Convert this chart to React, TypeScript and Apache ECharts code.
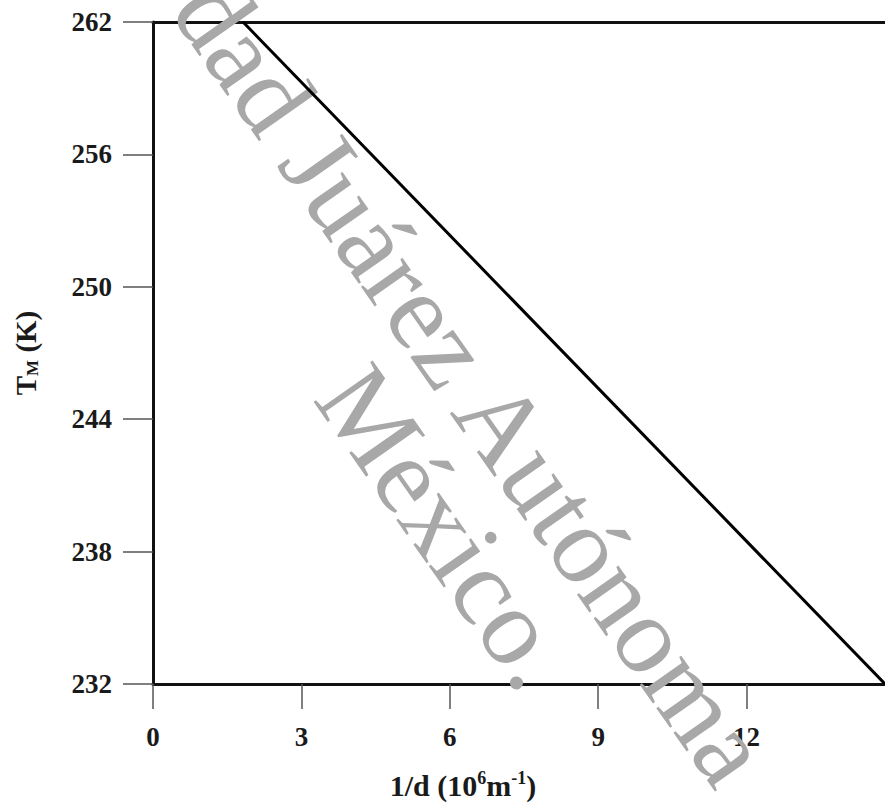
import React, { useEffect, useRef } from "react";
import * as echarts from "echarts";

// Data
const lineX: number[] = [1.82, 14.8];
const lineTM: number[] = [262, 232];
const xTicks: number[] = [0, 3, 6, 9, 12];
const yTicks: number[] = [232, 238, 244, 250, 256, 262];
const watermarkLine1 = "dad Juárez Autónoma";
const watermarkLine2 = "México.";

const SERIF = "'Liberation Serif', 'Times New Roman', serif";

export default function App() {
  const ref = useRef<HTMLDivElement>(null);

  useEffect(() => {
    if (!ref.current) return;
    const chart = echarts.init(ref.current, undefined, { renderer: "svg" });
    const data = lineX.map((x, i) => [x, lineTM[i]]);
    const ang = (55 * Math.PI) / 180;

    chart.setOption({
      animation: false,
      backgroundColor: "#ffffff",
      grid: { left: 153, top: 22, right: 0, bottom: 116, containLabel: false },
      xAxis: [
        {
          type: "value",
          min: xTicks[0],
          max: 14.8,
          interval: 3,
          position: "bottom",
          axisLine: { show: true, lineStyle: { color: "#111", width: 3 } },
          axisTick: { show: true, length: 25, lineStyle: { color: "#555", width: 1.5 } },
          splitLine: { show: false },
          axisLabel: {
            showMaxLabel: false,
            margin: 39,
            fontFamily: SERIF,
            fontWeight: "bold",
            fontSize: 27,
            color: "#1a1a1a",
            formatter: (v: number) => (xTicks.includes(v) ? String(v) : ""),
          },
          name: "{a|1/d (10}{s|6}{a|m}{s|-1}{a|)}",
          nameLocation: "middle",
          nameGap: 85,
          nameTextStyle: {
            padding: [0, 112, 0, 0],
            rich: {
              a: { fontFamily: SERIF, fontWeight: "bold", fontSize: 30, color: "#1a1a1a", lineHeight: 32 },
              s: { fontFamily: SERIF, fontWeight: "bold", fontSize: 18, color: "#1a1a1a", verticalAlign: "top", lineHeight: 19 },
            },
          },
        },
        {
          type: "value",
          min: xTicks[0],
          max: 14.8,
          position: "top",
          axisLine: { show: true, lineStyle: { color: "#111", width: 3 } },
          axisTick: { show: false },
          axisLabel: { show: false },
          splitLine: { show: false },
        },
      ],
      yAxis: {
        type: "value",
        min: yTicks[0],
        max: yTicks[yTicks.length - 1],
        interval: 6,
        axisLine: { show: true, lineStyle: { color: "#111", width: 3 } },
        axisTick: { show: true, length: 30, lineStyle: { color: "#555", width: 1.5 } },
        splitLine: { show: false },
        axisLabel: {
          margin: 41,
          fontFamily: SERIF,
          fontWeight: "bold",
          fontSize: 27,
          color: "#1a1a1a",
        },
        name: "{a|T}{s|M}{a| (K)}",
        nameLocation: "middle",
        nameGap: 112,
        nameTextStyle: {
          rich: {
            a: { fontFamily: SERIF, fontWeight: "bold", fontSize: 29, color: "#1a1a1a", lineHeight: 30 },
            s: { fontFamily: SERIF, fontWeight: "bold", fontSize: 17, color: "#1a1a1a", verticalAlign: "bottom", lineHeight: 17 },
          },
        },
      },
      graphic: [
        {
          type: "text",
          x: 199,
          y: -9,
          rotation: -ang,
          z: 1,
          silent: true,
          style: {
            text: watermarkLine1,
            fontFamily: SERIF,
            fontSize: 110,
            fill: "#a8a8a8",
            textAlign: "left",
            textVerticalAlign: "middle",
          },
        },
        {
          type: "text",
          x: 342,
          y: 378,
          rotation: -ang,
          z: 1,
          silent: true,
          style: {
            text: watermarkLine2,
            fontFamily: SERIF,
            fontSize: 110,
            fill: "#a8a8a8",
            textAlign: "left",
            textVerticalAlign: "middle",
          },
        },
      ],
      series: [
        {
          type: "line",
          data,
          symbol: "none",
          z: 5,
          lineStyle: { color: "#000", width: 3 },
        },
      ],
    });

    return () => chart.dispose();
  }, []);

  return (
    <div
      ref={ref}
      style={{ position: "fixed", left: 0, top: 0, width: 885, height: 805, background: "#fff" }}
    />
  );
}
